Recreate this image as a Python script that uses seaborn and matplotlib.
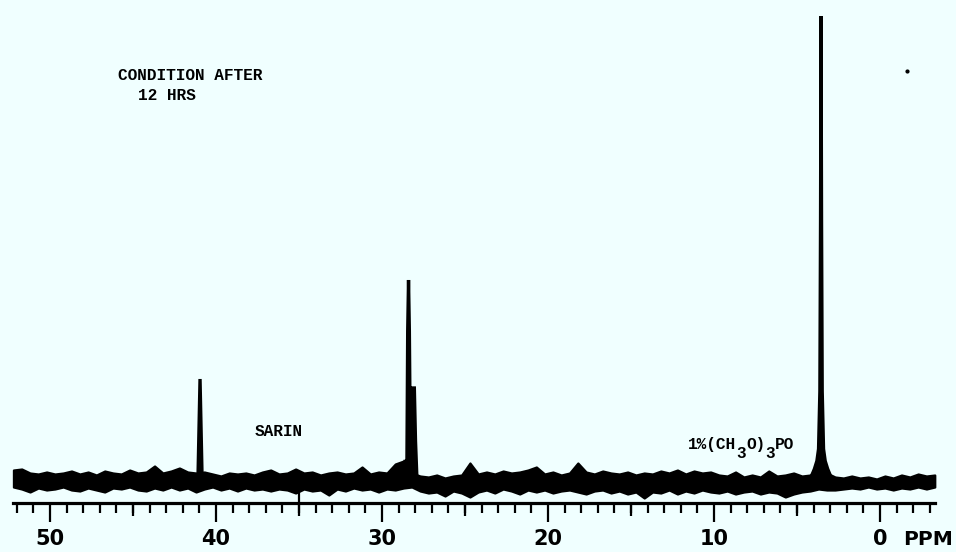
import numpy as np
import pandas as pd
import matplotlib
matplotlib.use("Agg")
import matplotlib.pyplot as plt
import seaborn as sns

# ---------------- data ----------------
ppm_grid = [52.2, 51.7, 51.2, 50.7, 50.2, 49.7, 49.2, 48.7, 48.2, 47.7, 47.2, 46.7, 46.2, 45.7,
            45.2, 44.7, 44.2, 43.7, 43.2, 42.7, 42.2, 41.7, 41.2, 40.7, 40.2, 39.7, 39.2, 38.7,
            38.2, 37.7, 37.2, 36.7, 36.2, 35.7, 35.2, 34.7, 34.2, 33.7, 33.2, 32.7, 32.2, 31.7,
            31.2, 30.7, 30.2, 29.7, 29.2, 28.7, 28.2, 27.7, 27.2, 26.7, 26.2, 25.7, 25.2, 24.7,
            24.2, 23.7, 23.2, 22.7, 22.2, 21.7, 21.2, 20.7, 20.2, 19.7, 19.2, 18.7, 18.2, 17.7,
            17.2, 16.7, 16.2, 15.7, 15.2, 14.7, 14.2, 13.7, 13.2, 12.7, 12.2, 11.7, 11.2, 10.7,
            10.2, 9.7, 9.2, 8.7, 8.2, 7.7, 7.2, 6.7, 6.2, 5.7, 5.2, 4.7, 4.2, 3.7, 3.2, 2.7,
            2.2, 1.7, 1.2, 0.7, 0.2, -0.3, -0.8, -1.3, -1.8, -2.3, -2.8, -3.3]

noise_upper = [11, 12, 8, 7, 9, 7, 8, 10, 7, 9, 6, 10, 8, 7, 11, 8, 9, 15, 8, 10, 13, 9, 8, 9, 7, 5, 8, 7,
               8, 6, 9, 11, 7, 8, 12, 8, 9, 6, 8, 9, 7, 8, 14, 7, 9, 8, 17, 20, 8, 5, 4, 6, 3, 5, 6, 18, 7,
               9, 7, 10, 8, 9, 11, 14, 7, 9, 6, 8, 18, 9, 7, 10, 8, 7, 9, 6, 8, 7, 10, 8, 11, 7, 10, 8, 9,
               6, 5, 9, 4, 6, 4, 10, 5, 6, 8, 5, 6, 15, 8, 4, 3, 5, 3, 4, 2, 5, 3, 6, 4, 7, 5, 6]

noise_lower = [-6, -8, -11, -7, -9, -8, -6, -9, -10, -7, -9, -11, -7, -8, -6, -9, -10, -7, -9, -6, -9, -7,
               -11, -8, -6, -9, -7, -10,
               -7, -9, -8, -10, -8, -9, -12, -8, -10, -9, -14, -8, -10, -7, -9, -8, -11, -8, -9, -7,
               -6, -10, -12, -11, -15, -10, -12, -16, -11,
               -9, -12, -8, -10, -13, -9, -11, -9, -12, -10, -9, -11, -13, -10, -9, -12, -10, -13, -11,
               -17, -11, -12, -9, -13, -10, -12, -9, -11,
               -12, -10, -13, -11, -10, -13, -11, -12, -16, -13, -11, -10, -8, -9, -9, -8, -7, -8, -6,
               -8, -7, -9, -7, -8, -6, -8, -6]

# peak at ~41 ppm
peak41_ppm = [41.08, 40.96, 40.84]
peak41_int = [6, 102, 6]
# sarin doublet ~28 ppm
sarin_ppm = [28.75, 28.6, 28.5, 28.45, 28.4, 28.35, 28.28, 28.22, 28.15, 28.05, 27.98, 27.9]
sarin_int = [8, 21, 10, 150, 201, 150, 12, 60, 93, 93, 40, 5]
# trimethyl phosphate reference ~3.5 ppm
tmp_ppm = [4.1, 3.95, 3.8, 3.7, 3.62, 3.58, 3.55, 3.52, 3.48, 3.4, 3.3, 3.15, 3.0]
tmp_int = [6, 12, 20, 32, 90, 260, 465, 260, 90, 32, 20, 12, 6]

major_ticks = [50, 40, 30, 20, 10, 0]
major_labels = ["50", "40", "30", "20", "10", "0"]
minor_ticks = list(range(-3, 53))
five_ticks = [45, 35, 25, 15, 5]

# ---------------- style ----------------
sns.set_theme(style="white")
plt.rcParams["font.family"] = ["DejaVu Sans"]
BG = "#F0FFFF"
INK = "black"

fig = plt.figure(figsize=(9.56, 5.52), dpi=100, facecolor=BG)
ax = fig.add_axes([0, 0, 1, 1])
ax.set_facecolor(BG)

# noise band
ax.fill_between(ppm_grid, noise_lower, noise_upper, color=INK, lw=1.6, edgecolor=INK)

# peaks (filled down into the band, outlined with a thick pen)
for px, py in [(peak41_ppm, peak41_int), (sarin_ppm, sarin_int), (tmp_ppm, tmp_int)]:
    ax.fill_between(px, [-6] * len(px), py, color=INK, lw=0)
    d = pd.DataFrame({"ppm": px, "int": py})
    sns.lineplot(data=d, x="ppm", y="int", ax=ax, color=INK, lw=2.4, sort=False,
                 estimator=None, solid_joinstyle="miter")

# dust dot
ax.plot([-1.63], [410], marker="o", ms=2, color=INK, lw=0)

ax.set_xlim(53.01, -4.58)
ax.set_ylim(-71, 481)
ax.set_xlabel("")
ax.set_ylabel("")

for s in ["top", "left", "right"]:
    ax.spines[s].set_visible(False)
axis_y = -22
ax.spines["bottom"].set_position(("data", axis_y))
ax.spines["bottom"].set_bounds(-3.31, 52.23)
ax.spines["bottom"].set_color(INK)
ax.spines["bottom"].set_linewidth(2.3)

ax.set_yticks([])
ax.set_xticks(major_ticks)
ax.set_xticklabels(major_labels)
ax.set_xticks(minor_ticks, minor=True)
ax.tick_params(axis="x", which="major", direction="out", length=13.5, width=1.6,
               color=INK, labelsize=15, pad=5, bottom=True)
ax.tick_params(axis="x", which="minor", direction="out", length=7.2, width=1.6,
               color=INK, bottom=True)
for lab in ax.get_xticklabels():
    lab.set_fontweight("bold")
    lab.set_color(INK)

# slightly longer ticks at the 5s
sec = ax.secondary_xaxis((552 - 503) / 552)
sec.set_xticks(five_ticks)
sec.set_xticklabels([])
sec.tick_params(axis="x", direction="out", length=9, width=1.6, color=INK)
sec.spines["bottom"].set_visible(False)

# the tick at 35 ppm that crosses up into the trace
ax.vlines([35], axis_y, -4, color=INK, lw=1.6)

# PPM unit label
ax.text(-1.39, -64, "PPM", ha="left", va="baseline", fontsize=14.5,
        fontweight="bold", color=INK)

# annotations (typewriter style)
mono = dict(family=["Liberation Mono", "DejaVu Sans Mono"], fontsize=11.6,
            fontweight="bold", color=INK)
W, H = 956.0, 552.0


def ptext(x, y, s):
    fig.text(x / W, 1 - y / H, s, ha="left", va="baseline", **mono)


ptext(118, 80, "CONDITION AFTER")
ptext(138, 100, "12 HRS")
ptext(255, 436, "SARIN")
cw = 9.67
x0 = 688
ptext(x0, 449, "1%(CH")
ptext(x0 + 5 * cw, 458, "3")
ptext(x0 + 6 * cw, 449, "O)")
ptext(x0 + 8 * cw, 458, "3")
ptext(x0 + 9 * cw, 449, "PO")

fig.savefig("out.png", dpi=100, facecolor=BG)
